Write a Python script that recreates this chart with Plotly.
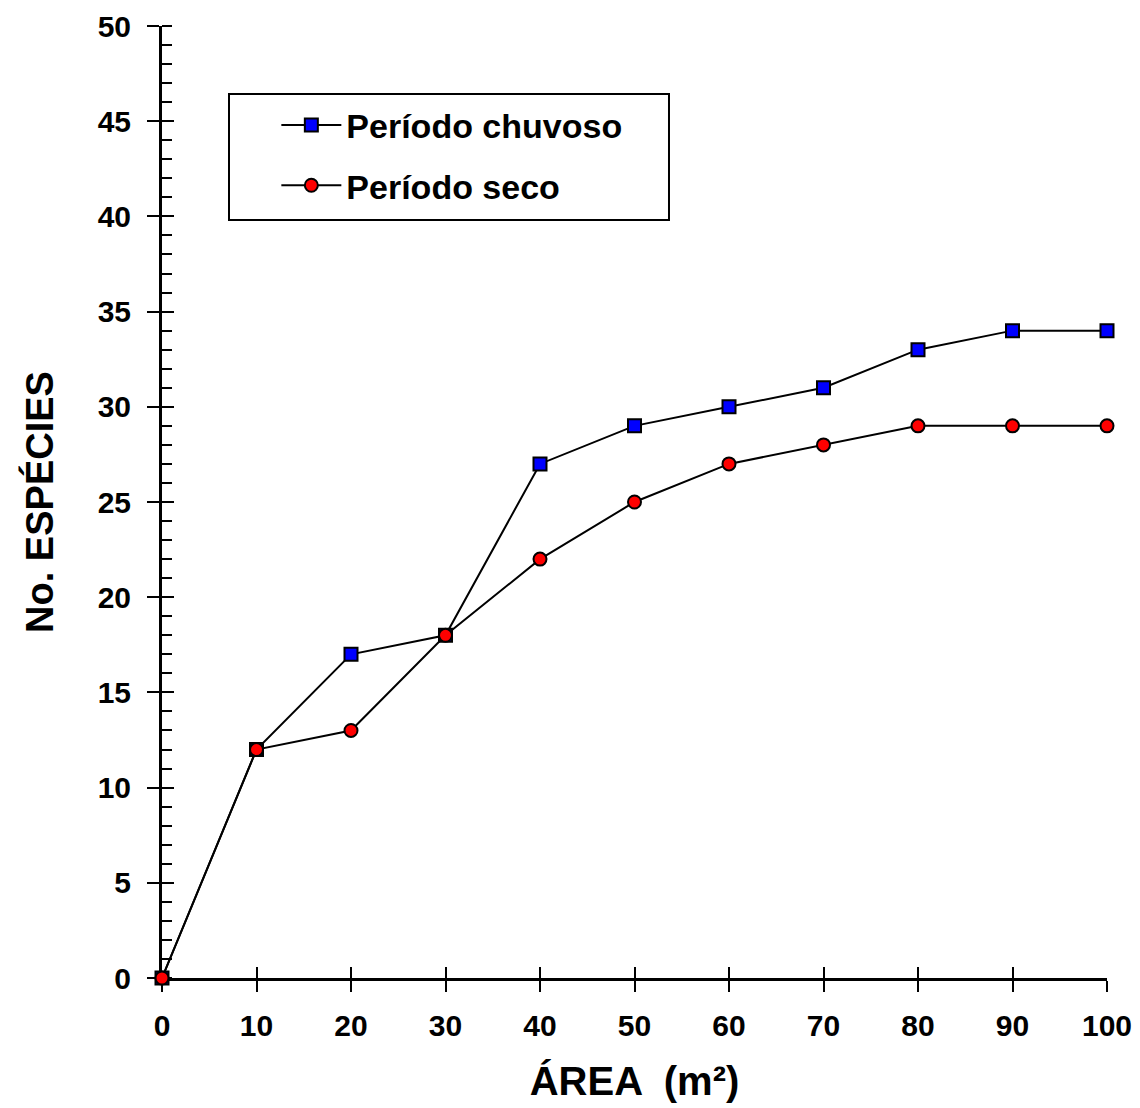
import plotly.graph_objects as go

area = [0, 10, 20, 30, 40, 50, 60, 70, 80, 90, 100]
chuvoso = [0, 12, 17, 18, 27, 29, 30, 31, 33, 34, 34]
seco = [0, 12, 13, 18, 22, 25, 27, 28, 29, 29, 29]
x_ticks = [0, 10, 20, 30, 40, 50, 60, 70, 80, 90, 100]
y_ticks = [0, 5, 10, 15, 20, 25, 30, 35, 40, 45, 50]

FONT = "Liberation Sans, Arial, sans-serif"

fig = go.Figure()
fig.add_trace(go.Scatter(
    x=area, y=chuvoso, mode="lines+markers", name="Período chuvoso",
    legendgroup="a",
    line=dict(color="black", width=2),
    marker=dict(symbol="square", size=13, color="#0000FF", line=dict(color="black", width=2)),
    cliponaxis=False,
))
fig.add_trace(go.Scatter(
    x=area, y=seco, mode="lines+markers", name="Período seco",
    legendgroup="b",
    line=dict(color="black", width=2),
    marker=dict(symbol="circle", size=13, color="#FF0000", line=dict(color="black", width=2)),
    cliponaxis=False,
))

tickfont = dict(family=FONT, size=30, color="black", weight="bold")

fig.update_layout(
    width=1140, height=1108,
    margin=dict(l=162, r=33, t=26, b=130, autoexpand=False),
    plot_bgcolor="white", paper_bgcolor="white",
    showlegend=True,
    legend=dict(
        x=0.121, y=0.926, xanchor="left", yanchor="top",
        bgcolor="rgba(0,0,0,0)", borderwidth=0,
        font=dict(family=FONT, size=34, color="black", weight="bold"),
        traceorder="grouped", tracegroupgap=13,
        itemwidth=60,
    ),
    xaxis=dict(
        range=[0, 100], tickvals=x_ticks, ticks="outside", ticklen=11, tickwidth=2,
        tickcolor="black", showline=True, linecolor="black", linewidth=3,
        showgrid=False, zeroline=False, layer="below traces", automargin=False,
        tickfont=tickfont, ticklabelstandoff=8,
        title=dict(text="ÁREA  (m²)", font=dict(family=FONT, size=40, color="black", weight="bold"), standoff=26),
    ),
    yaxis=dict(
        range=[0, 50], tickvals=y_ticks, ticks="outside", ticklen=12, tickwidth=2,
        tickcolor="black", showline=True, linecolor="black", linewidth=3,
        showgrid=False, zeroline=False, layer="below traces", automargin=False,
        tickfont=tickfont, ticklabelstandoff=10,
        minor=dict(ticks="inside", ticklen=10, tickwidth=2, tickcolor="black", dtick=1, showgrid=False),
        title=dict(text="No. ESPÉCIES", font=dict(family=FONT, size=38, color="black", weight="bold"), standoff=33),
    ),
    xaxis2=dict(
        overlaying="x", range=[0, 100], tickvals=x_ticks, ticks="inside", ticklen=11, tickwidth=2,
        tickcolor="black", showticklabels=False, showline=False, showgrid=False, zeroline=False,
        side="bottom", layer="below traces", automargin=False,
    ),
    yaxis2=dict(
        overlaying="y", range=[0, 50], tickvals=y_ticks, ticks="inside", ticklen=12, tickwidth=2,
        tickcolor="black", showticklabels=False, showline=False, showgrid=False, zeroline=False,
        side="left", layer="below traces", automargin=False,
    ),
    shapes=[dict(
        type="rect", xref="paper", yref="paper",
        x0=0.0709, x1=0.5365, y0=0.7962, y1=0.9286,
        line=dict(color="black", width=2), fillcolor="rgba(0,0,0,0)",
    )],
)

# invisible trace to activate the overlay axes
fig.add_trace(go.Scatter(x=[None], y=[None], xaxis="x2", yaxis="y2", showlegend=False, hoverinfo="skip"))

fig.write_html("out.html")
